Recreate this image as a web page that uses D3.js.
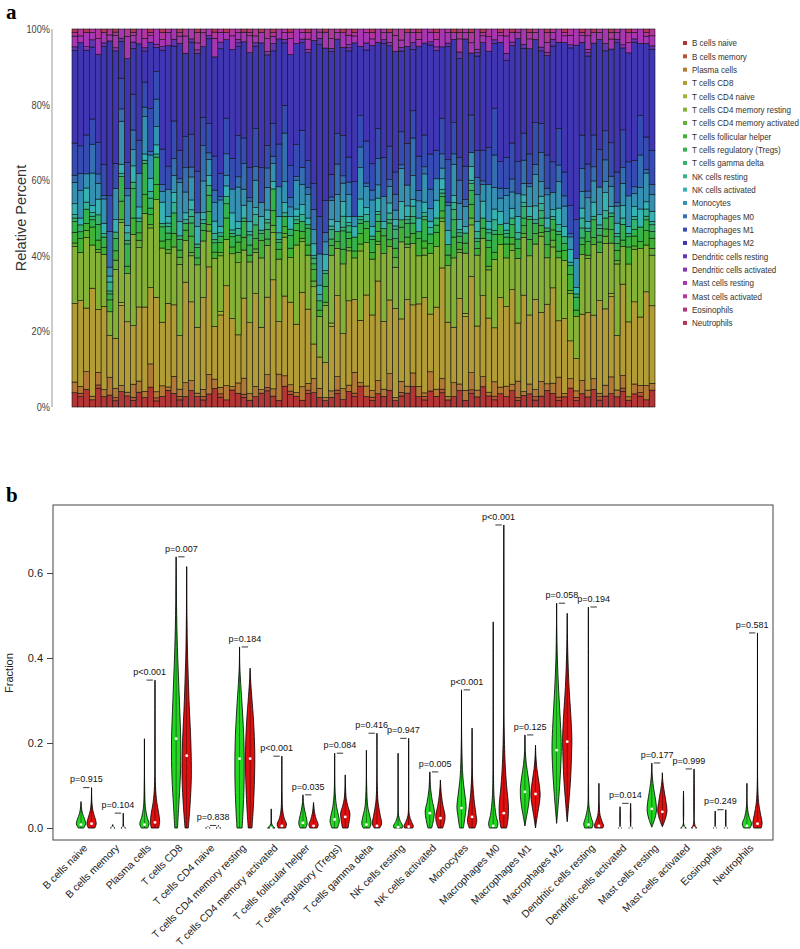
<!DOCTYPE html>
<html>
<head>
<meta charset="utf-8">
<script src="https://cdn.jsdelivr.net/npm/d3@7"></script>
<style>
  body { margin: 0; background: #fff; }
  svg text { font-family: "Liberation Sans", Arial, sans-serif; }
</style>
</head>
<body>
<svg id="chart" width="800" height="949"></svg>
<script>
// ---- data ----
const cellTypes = ['B cells naive', 'B cells memory', 'Plasma cells', 'T cells CD8', 'T cells CD4 naive',
  'T cells CD4 memory resting', 'T cells CD4 memory activated', 'T cells follicular helper',
  'T cells regulatory (Tregs)', 'T cells gamma delta', 'NK cells resting', 'NK cells activated',
  'Monocytes', 'Macrophages M0', 'Macrophages M1', 'Macrophages M2', 'Dendritic cells resting',
  'Dendritic cells activated', 'Mast cells resting', 'Mast cells activated', 'Eosinophils', 'Neutrophils'];

// panel a: percent per sample (stacked bottom -> top in legend order)
const bNaive = [4,3,5,2,6,3,4,2,5,3, 2,4,3,6,2,3,5,4,2,3, 5,3,2,4,6,3,2,5,4,3, 2,3,4,5,3,2,6,4,3,2, 4,5,3,2,3,4,2,5,3,6, 3,2,4,3,5,2,3,4,6,3, 2,5,3,4,2,3,5,2,4,3, 6,3,2,4,3,5,2,3,4,2, 3,5,4,2,3,6,2,4,3,5, 2,3,4,3,5,2,4,3,2,5];
const bMemory = [0,1,0,0,1,0,0,1,0,0, 1,0,0,0,1,0,0,0,1,0, 0,0,1,0,0,1,0,0,0,1, 0,0,0,1,0,0,0,1,0,0, 1,0,0,0,0,1,0,0,1,0, 0,1,0,0,0,0,1,0,0,0, 1,0,0,1,0,0,0,0,1,0, 0,0,1,0,0,0,1,0,0,1, 0,0,0,1,0,0,1,0,0,0, 1,0,0,0,1,0,0,1,0,0];
const plasma = [3,2,5,1,4,2,6,3,2,1, 4,3,2,7,2,3,1,5,2,4, 3,1,2,6,3,2,4,1,3,5, 2,3,1,4,2,8,3,2,1,4, 2,5,3,1,2,4,3,2,6,1, 3,2,4,2,5,1,3,2,4,3, 1,6,2,3,1,4,2,3,5,2, 3,1,4,2,3,2,5,1,3,2, 4,2,3,6,1,3,2,4,2,3, 1,3,5,2,4,1,3,2,4,2];
const cd8 = [22,25,18,30,20,24,14,16,26,19, 18,20,27,23,31,18,25,21,15,29, 24,19,26,33,17,22,28,20,14,25, 21,27,18,24,30,16,23,26,19,28, 22,12,10,11,20,24,15,27,21,18, 26,23,30,19,22,28,17,25,20,24, 27,18,23,31,21,16,26,22,28,19, 24,20,15,27,23,29,18,25,21,26, 19,24,28,17,22,12,10,20,23,18, 27,21,24,16,29,22,25,19,26,23];
const cd4Naive = [0,0,0,0,0,0,0,0,1,0, 0,0,0,0,0,0,0,0,0,0, 0,0,0,0,0,1,0,0,0,0, 0,0,0,0,0,0,0,0,0,0, 0,0,0,0,1,0,0,0,0,0, 0,0,0,0,0,0,0,0,0,0, 0,0,0,0,0,0,0,1,0,0, 0,0,0,0,0,0,0,0,0,0, 0,0,0,0,0,0,0,0,0,0, 0,0,1,0,0,0,0,0,0,0];
const cd4Resting = [16,14,20,12,18,15,8,22,26,13, 28,16,30,18,32,21,15,17,20,12, 14,18,16,11,22,17,13,19,21,15, 18,12,20,16,13,19,17,14,22,15, 16,20,13,18,21,14,19,16,12,20, 15,17,11,19,16,13,21,15,18,14, 12,19,17,13,16,20,14,18,15,21, 17,13,19,16,14,12,20,15,18,16, 21,14,12,19,17,15,13,18,16,20, 14,18,15,21,12,17,16,19,13,15];
const cd4Activated = [1,0,2,0,1,0,0,3,1,0, 0,2,0,1,0,0,1,0,2,0, 1,0,0,2,0,1,0,0,3,0, 0,1,0,0,2,0,1,0,0,1, 0,2,0,1,0,0,0,1,0,2, 0,0,1,0,0,3,0,1,0,0, 2,0,0,1,0,0,1,0,2,0, 0,1,0,0,0,2,0,1,0,0, 1,0,2,0,0,1,0,0,1,0, 0,2,0,1,0,0,1,0,0,2];
const tfh = [3,4,2,5,3,2,4,3,6,2, 5,2,6,3,5,2,3,4,2,3, 5,2,3,4,2,3,6,2,3,4, 2,3,5,2,4,3,2,3,4,2, 3,4,2,5,3,2,4,3,2,3, 4,2,3,5,2,3,4,2,3,5, 2,3,4,2,3,6,2,3,4,2, 3,5,2,3,4,2,3,2,5,3, 2,4,3,2,3,5,2,3,4,2, 3,2,4,3,2,5,3,2,4,3];
const tregs = [3,2,4,2,5,3,2,4,8,6, 9,3,10,2,9,4,2,6,3,2, 4,3,2,5,3,2,4,3,2,5, 3,4,2,3,6,2,3,4,2,3, 5,2,3,4,2,3,5,2,4,3, 2,4,3,2,5,3,2,4,3,2, 6,3,2,4,3,5,2,3,4,2, 3,2,5,3,2,4,3,2,6,3, 2,4,3,5,2,3,4,2,3,5, 2,3,4,2,5,3,2,4,3,2];
const gammaDelta = [1,2,0,1,3,0,1,2,0,1, 2,0,1,3,0,1,2,0,1,0, 2,1,0,3,1,0,2,1,0,1, 3,0,1,2,0,1,0,2,1,0, 1,2,0,1,3,0,1,2,0,1, 0,1,2,0,1,3,0,1,2,0, 1,0,2,1,0,3,1,0,2,1, 0,2,1,0,1,2,0,3,1,0, 2,1,0,1,2,0,1,3,0,1, 2,0,1,2,0,1,3,0,1,2];
const nkResting = [1,0,2,1,0,1,3,0,1,2, 0,1,0,2,1,0,1,3,0,1, 2,0,1,0,2,1,0,1,2,0, 1,3,0,1,0,2,1,0,1,2, 0,1,2,0,1,0,3,1,0,1, 2,0,1,0,2,1,0,1,3,0, 1,2,0,1,0,2,1,0,1,2, 0,1,3,0,1,0,2,1,0,1, 2,0,1,2,0,1,0,3,1,0, 1,2,0,1,2,0,1,0,2,1];
const nkActivated = [3,2,4,2,5,3,2,4,3,2, 5,3,2,4,3,6,2,3,4,2, 3,5,2,3,4,2,3,5,2,4, 3,2,4,3,2,5,3,4,2,3, 2,4,3,5,2,3,4,2,3,5, 2,3,4,2,3,2,5,3,2,4, 3,2,5,3,4,2,3,2,4,3, 5,2,3,4,2,3,5,2,3,4, 2,3,2,5,3,4,2,3,2,4, 3,5,2,3,4,2,3,5,2,3];
const monocytes = [6,8,4,9,5,7,3,10,14,8, 5,9,12,7,6,3,8,5,11,6, 7,4,9,5,6,8,3,7,10,5, 6,8,4,7,5,9,6,3,8,6, 7,5,10,4,6,8,5,7,3,9, 6,8,4,7,5,3,9,6,7,5, 8,4,6,3,7,9,5,6,4,8, 5,10,6,4,8,5,7,3,6,9, 4,7,5,8,6,4,9,5,7,6, 8,3,6,5,7,9,4,6,8,5];
const m0 = [2,5,0,8,3,1,12,0,4,2, 6,0,3,1,9,2,0,5,1,7, 3,0,10,2,4,1,6,0,3,8, 1,4,0,6,2,0,14,3,1,5, 2,7,0,3,1,9,2,4,0,6, 1,3,8,0,2,5,1,0,11,3, 2,6,0,4,1,3,7,2,0,5, 1,0,9,3,2,4,0,6,1,3, 8,2,0,5,3,1,0,7,2,4, 0,6,3,1,5,0,2,9,1,3];
const m1 = [9,8,11,7,10,9,12,8,10,7, 11,9,8,13,9,10,7,11,8,9, 10,12,8,9,11,7,10,9,12,8, 9,11,10,7,9,13,8,10,9,11, 8,9,12,10,7,9,11,8,10,9, 12,8,9,11,10,7,9,12,8,10, 9,11,8,10,12,9,7,10,11,8, 9,10,13,8,9,11,10,7,9,12, 8,10,9,11,7,9,12,10,8,9, 11,8,10,9,12,10,8,11,9,10];
const m2 = [26,30,24,20,28,34,52,36,12,28, 14,26,10,20,8,28,36,22,30,24, 28,34,20,26,32,38,22,32,26,30, 34,24,36,28,20,32,18,35,28,26, 32,50,55,48,38,28,24,34,40,20, 26,36,26,32,30,38,22,28,18,32, 26,34,28,20,32,24,30,38,18,28, 32,26,18,36,28,30,38,22,32,24, 20,30,34,26,38,50,54,28,32,26, 32,22,28,38,26,32,36,20,26,30];
const dcResting = [1,0,0,2,0,1,0,0,1,0, 2,0,1,0,0,1,0,2,0,0, 1,0,0,1,0,2,0,0,1,0, 0,1,0,0,2,0,1,0,0,1, 0,0,2,0,1,0,0,1,0,0, 2,0,0,1,0,0,1,0,2,0, 0,1,0,0,1,0,2,0,0,1, 0,0,1,0,2,0,0,1,0,0, 1,0,2,0,0,1,0,0,1,0, 0,2,0,1,0,0,1,0,0,1];
const dcActivated = [0,0,1,0,0,0,0,1,0,0, 0,0,0,0,1,0,0,0,0,0, 0,1,0,0,0,0,0,0,1,0, 0,0,0,1,0,0,0,0,0,0, 1,0,0,0,0,0,0,1,0,0, 0,0,0,0,1,0,0,0,0,0, 0,0,1,0,0,0,0,0,0,1, 0,0,0,0,0,1,0,0,0,0, 0,1,0,0,0,0,0,0,1,0, 0,0,0,0,1,0,0,0,0,0];
const mastResting = [3,2,4,2,5,3,2,4,3,6, 2,4,3,2,5,2,4,3,2,5, 3,2,4,2,6,3,2,4,2,3, 5,2,3,4,2,3,2,5,4,2, 3,4,2,5,3,2,4,3,2,5, 3,2,4,2,3,5,2,4,3,2, 4,3,2,5,3,2,4,2,3,6, 2,4,3,2,5,3,2,4,3,2, 5,3,2,4,2,3,5,2,4,3, 2,4,3,2,5,3,2,4,2,3];
const mastActivated = [1,2,0,1,3,0,2,1,0,2, 1,0,3,1,0,2,1,0,1,2, 0,3,1,0,2,1,0,2,1,0, 1,2,0,3,1,0,1,2,0,1, 2,0,1,0,3,1,0,2,1,0, 1,2,0,1,0,2,3,0,1,2, 0,1,2,0,1,0,2,1,3,0, 1,2,0,1,2,0,1,0,2,1, 0,3,1,0,1,2,0,1,2,0, 1,0,2,1,0,3,1,0,1,2];
const eosinophils = [0,0,0,0,0,0,0,0,0,0, 0,0,0,0,0,0,0,0,0,0, 0,0,0,0,0,0,0,0,0,0, 1,0,0,0,0,0,0,0,0,0, 0,0,0,0,0,0,0,0,0,0, 0,0,0,0,0,0,0,0,0,0, 0,0,0,0,0,0,1,0,0,0, 0,0,0,0,0,0,0,0,0,0, 0,0,0,0,0,0,0,0,0,0, 0,0,0,0,0,0,0,0,0,0];
const neutrophils = [1,0,1,0,0,1,0,1,0,0, 1,0,0,1,0,1,0,0,1,0, 0,1,0,0,1,0,1,0,0,1, 0,0,1,0,1,0,0,1,0,0, 1,0,0,1,0,0,1,0,1,0, 0,1,0,0,1,0,0,1,0,1, 0,0,1,0,0,1,0,0,1,0, 1,0,0,1,0,1,0,0,1,0, 0,1,0,0,1,0,0,1,0,1, 0,0,1,0,0,1,0,0,1,0];

const fractions = [bNaive, bMemory, plasma, cd8, cd4Naive, cd4Resting, cd4Activated, tfh, tregs, gammaDelta,
  nkResting, nkActivated, monocytes, m0, m1, m2, dcResting, dcActivated, mastResting, mastActivated,
  eosinophils, neutrophils];

// panel b: violin outlines as [fraction, relative half-width], one per cell type
const normalShape = [
  [[0,0.6],[0.01,1],[0.02,0.8],[0.035,0.3],[0.05,0.08],[0.062,0]],
  [[0,0.5],[0.002,0.2],[0.008,0]],
  [[0,0.7],[0.01,1],[0.025,0.6],[0.05,0.2],[0.1,0.05],[0.21,0]],
  [[0,0.3],[0.05,0.55],[0.12,0.9],[0.2,1],[0.3,0.7],[0.4,0.35],[0.5,0.12],[0.638,0]],
  [[0,0.5],[0.002,0.1],[0.004,0]],
  [[0,0.55],[0.05,0.8],[0.12,1],[0.2,0.95],[0.28,0.6],[0.34,0.25],[0.38,0.06],[0.426,0]],
  [[0,0.8],[0.003,0.5],[0.01,0.1],[0.045,0]],
  [[0,0.6],[0.01,0.9],[0.02,0.8],[0.04,0.4],[0.06,0.1],[0.078,0]],
  [[0,0.6],[0.015,1],[0.03,0.8],[0.05,0.4],[0.08,0.12],[0.12,0.03],[0.176,0]],
  [[0,0.7],[0.01,1],[0.025,0.8],[0.05,0.3],[0.1,0.06],[0.183,0]],
  [[0,0.9],[0.005,1],[0.015,0.5],[0.03,0.1],[0.06,0.02],[0.176,0]],
  [[0,0.4],[0.02,0.8],[0.04,1],[0.06,0.6],[0.09,0.2],[0.132,0]],
  [[0,0.4],[0.03,0.8],[0.05,1],[0.08,0.7],[0.12,0.3],[0.2,0.05],[0.325,0]],
  [[0,0.8],[0.01,1],[0.03,0.6],[0.07,0.2],[0.15,0.04],[0.485,0]],
  [[0.005,0],[0.03,0.4],[0.06,0.85],[0.09,1],[0.12,0.7],[0.15,0.3],[0.18,0.08],[0.219,0]],
  [[0.011,0],[0.05,0.3],[0.1,0.65],[0.15,0.9],[0.19,1],[0.25,0.8],[0.32,0.45],[0.4,0.15],[0.47,0.04],[0.529,0]],
  [[0,0.8],[0.01,1],[0.025,0.6],[0.05,0.15],[0.1,0.04],[0.52,0]],
  [[0,0.4],[0.002,0.1],[0.05,0]],
  [[0.002,0],[0.02,0.6],[0.04,1],[0.06,0.9],[0.09,0.45],[0.12,0.12],[0.153,0]],
  [[0,0.6],[0.003,0.3],[0.01,0.05],[0.087,0]],
  [[0,0.4],[0.002,0.1],[0.04,0]],
  [[0,0.7],[0.01,1],[0.025,0.5],[0.05,0.1],[0.105,0]]
];
const tumorShape = [
  [[0,0.7],[0.01,1],[0.025,0.7],[0.04,0.3],[0.06,0.08],[0.095,0]],
  [[0,0.5],[0.003,0.15],[0.01,0.03],[0.035,0]],
  [[0,0.8],[0.015,1],[0.035,0.8],[0.06,0.4],[0.1,0.1],[0.2,0.03],[0.348,0]],
  [[0,0.35],[0.05,0.7],[0.12,1],[0.2,0.9],[0.3,0.5],[0.4,0.2],[0.5,0.06],[0.615,0]],
  [[0,0.5],[0.002,0.1],[0.006,0]],
  [[0,0.4],[0.05,0.7],[0.12,0.95],[0.18,1],[0.25,0.75],[0.31,0.35],[0.35,0.1],[0.376,0]],
  [[0,0.8],[0.01,1],[0.02,0.6],[0.04,0.2],[0.08,0.05],[0.169,0]],
  [[0,0.8],[0.008,1],[0.02,0.6],[0.035,0.25],[0.06,0]],
  [[0,0.6],[0.02,0.9],[0.035,1],[0.05,0.6],[0.07,0.2],[0.1,0.05],[0.125,0]],
  [[0,0.6],[0.01,1],[0.03,0.7],[0.06,0.25],[0.1,0.06],[0.223,0]],
  [[0,0.9],[0.005,1],[0.015,0.6],[0.03,0.15],[0.06,0.03],[0.211,0]],
  [[0,0.5],[0.015,0.9],[0.03,1],[0.05,0.6],[0.08,0.2],[0.113,0]],
  [[0,0.6],[0.015,1],[0.035,0.8],[0.07,0.4],[0.12,0.1],[0.235,0]],
  [[0,0.6],[0.02,0.9],[0.05,1],[0.1,0.6],[0.15,0.3],[0.25,0.06],[0.4,0.02],[0.713,0]],
  [[0,0],[0.03,0.4],[0.06,0.85],[0.08,1],[0.11,0.7],[0.14,0.3],[0.17,0.08],[0.195,0]],
  [[0.015,0],[0.06,0.35],[0.12,0.75],[0.18,0.95],[0.21,1],[0.27,0.75],[0.33,0.4],[0.4,0.15],[0.46,0.04],[0.505,0]],
  [[0,0.8],[0.005,1],[0.015,0.7],[0.03,0.25],[0.06,0.05],[0.105,0]],
  [[0,0.4],[0.002,0.1],[0.058,0]],
  [[0.003,0],[0.02,0.6],[0.04,1],[0.06,0.8],[0.09,0.35],[0.11,0.1],[0.13,0]],
  [[0,0.6],[0.004,0.3],[0.015,0.05],[0.139,0]],
  [[0,0.4],[0.002,0.1],[0.043,0]],
  [[0,0.8],[0.012,1],[0.03,0.7],[0.06,0.25],[0.1,0.06],[0.2,0.02],[0.459,0]]
];
const normalMedian = [0.008,0,0.008,0.21,0,0.163,0,0.012,0.02,0.008,0.002,0.035,0.047,0.005,0.085,0.183,0.008,0,0.045,0,0,0.005];
const tumorMedian = [0.01,0,0.013,0.17,0,0.163,0.005,0.005,0.026,0.005,0.003,0.023,0.026,0.035,0.08,0.203,0.005,0,0.038,0,0,0.01];
const pLabels = ['p=0.915','p=0.104','p<0.001','p=0.007','p=0.838','p=0.184','p<0.001','p=0.035','p=0.084','p=0.416','p=0.947',
  'p=0.005','p<0.001','p<0.001','p=0.125','p=0.058','p=0.194','p=0.014','p=0.177','p=0.999','p=0.249','p=0.581'];
const yTicksA = [0, 0.2, 0.4, 0.6, 0.8, 1];
const yTicksB = [0, 0.2, 0.4, 0.6];

const svg = d3.select('#chart');

// rainbow(22, s = 0.7, v = 0.7)
const color = d3.scaleOrdinal()
  .domain(cellTypes)
  .range(cellTypes.map((c, i) => d3.hsl(i * 360 / cellTypes.length, 0.538, 0.455).formatHex()));

// ================= panel a =================
svg.append('text').attr('x', 6).attr('y', 19)
  .style('font-family', '"Liberation Serif", "Times New Roman", serif')
  .style('font-weight', 'bold').style('font-size', '21px').text('a');

const samples = d3.range(bNaive.length);
const rows = samples.map(i => {
  const r = {};
  cellTypes.forEach((c, k) => { r[c] = fractions[k][i]; });
  return r;
});
const series = d3.stack().keys(cellTypes).offset(d3.stackOffsetExpand)(rows);

const xA = d3.scaleBand().domain(samples).range([72, 655]).padding(0);
const yA = d3.scaleLinear().domain([0, 1]).range([407, 29]);

const gBars = svg.append('g');
gBars.selectAll('g')
  .data(series)
  .join('g')
  .attr('fill', d => color(d.key))
  .selectAll('rect')
  .data(d => d.map((v, i) => ({ v, i })))
  .join('rect')
  .attr('x', d => xA(d.i))
  .attr('width', xA.bandwidth())
  .attr('y', d => yA(d.v[1]))
  .attr('height', d => yA(d.v[0]) - yA(d.v[1]))
  .attr('stroke', '#111')
  .attr('stroke-width', 0.6);

const gAxA = svg.append('g');
gAxA.append('line').attr('x1', 52).attr('x2', 52).attr('y1', yA(1)).attr('y2', yA(0))
  .attr('stroke', '#999').attr('stroke-width', 1);
gAxA.selectAll('text.tick')
  .data(yTicksA)
  .join('text')
  .attr('class', 'tick')
  .attr('transform', d => `translate(50,${yA(d)}) scale(0.8,1)`)
  .attr('dy', '0.35em')
  .attr('text-anchor', 'end')
  .style('font-size', '11.5px')
  .attr('fill', '#444')
  .text(d => d3.format('.0%')(d));
svg.append('text')
  .attr('transform', `translate(26,${(yA(0) + yA(1)) / 2}) rotate(-90)`)
  .attr('text-anchor', 'middle')
  .style('font-size', '14.5px')
  .attr('fill', '#333')
  .text('Relative Percent');

const legend = svg.append('g');
const legendRow = legend.selectAll('g')
  .data(cellTypes)
  .join('g')
  .attr('transform', (d, i) => `translate(683,${43 + i * 13.33})`);
legendRow.append('rect').attr('x', 0).attr('y', -2).attr('width', 4).attr('height', 4)
  .attr('fill', d => color(d));
legendRow.append('text')
  .attr('transform', 'translate(9,0) scale(0.82,1)')
  .attr('dy', '0.35em')
  .style('font-size', '9.8px')
  .attr('fill', '#333')
  .text(d => d);

// ================= panel b =================
svg.append('text').attr('x', 6).attr('y', 502)
  .style('font-family', '"Liberation Serif", "Times New Roman", serif')
  .style('font-weight', 'bold').style('font-size', '21px').text('b');

const unit = 10.57;
const xB = d3.scaleLinear().domain([0, 63]).range([81, 81 + 63 * unit]);
const yB = d3.scaleLinear().domain([0, 0.6]).range([828, 573]);
const halfW = 0.44 * unit;

svg.append('rect').attr('x', 53).attr('y', 505).attr('width', 720).attr('height', 335)
  .attr('fill', 'none').attr('stroke', '#444').attr('stroke-width', 1);

const gAxB = svg.append('g').attr('transform', 'translate(53,0)')
  .call(d3.axisLeft(yB).tickValues(yTicksB).tickFormat(d3.format('.1f')).tickSize(6).tickPadding(4));
gAxB.select('.domain').remove();
gAxB.selectAll('.tick line').attr('stroke', '#444');
gAxB.selectAll('.tick text').style('font-size', '11px').style('font-family', '"Liberation Sans", Arial, sans-serif').attr('fill', '#222');

svg.append('text')
  .attr('transform', 'translate(13,673) rotate(-90)')
  .attr('text-anchor', 'middle')
  .style('font-size', '11px')
  .attr('fill', '#222')
  .text('Fraction');

const violin = xc => d3.area()
  .y(d => yB(d[0]))
  .x0(d => xc - d[1] * halfW)
  .x1(d => xc + d[1] * halfW)
  .curve(d3.curveCatmullRom.alpha(0.5));

const groups = [
  { shape: normalShape, median: normalMedian, fill: '#22d622', off: 0 },
  { shape: tumorShape, median: tumorMedian, fill: '#e01010', off: 1 }
];

const gV = svg.append('g');
cellTypes.forEach((c, i) => {
  groups.forEach(g => {
    const xc = xB(3 * i + g.off);
    const pts = g.shape[i];
    gV.append('path')
      .attr('d', violin(xc)(pts))
      .attr('fill', g.fill)
      .attr('stroke', '#000')
      .attr('stroke-width', 0.8);
    gV.append('line')
      .attr('x1', xc).attr('x2', xc)
      .attr('y1', yB(pts[0][0])).attr('y2', yB(pts[pts.length - 1][0]))
      .attr('stroke', '#000').attr('stroke-width', 0.6).attr('opacity', 0.7);
    gV.append('circle')
      .attr('cx', xc).attr('cy', yB(g.median[i])).attr('r', 1.4)
      .attr('fill', '#fff');
  });
  const mx = Math.max(normalShape[i][normalShape[i].length - 1][0], tumorShape[i][tumorShape[i].length - 1][0]);
  gV.append('line')
    .attr('x1', xB(3 * i + 0.2)).attr('x2', xB(3 * i + 0.8))
    .attr('y1', yB(mx)).attr('y2', yB(mx))
    .attr('stroke', '#000').attr('stroke-width', 0.8);
  gV.append('text')
    .attr('x', xB(3 * i + 0.5)).attr('y', yB(mx + 0.02)).attr('dy', '0.35em')
    .attr('text-anchor', 'middle')
    .style('font-size', '9px')
    .attr('fill', '#111')
    .text(pLabels[i]);
});

svg.append('g').selectAll('text')
  .data(cellTypes)
  .join('text')
  .attr('transform', (d, i) => `translate(${xB(3 * i + 1) - 6},846) rotate(-45)`)
  .attr('dy', '0.35em')
  .attr('text-anchor', 'end')
  .style('font-size', '10.4px')
  .attr('fill', '#222')
  .text(d => d);
</script>
</body>
</html>
